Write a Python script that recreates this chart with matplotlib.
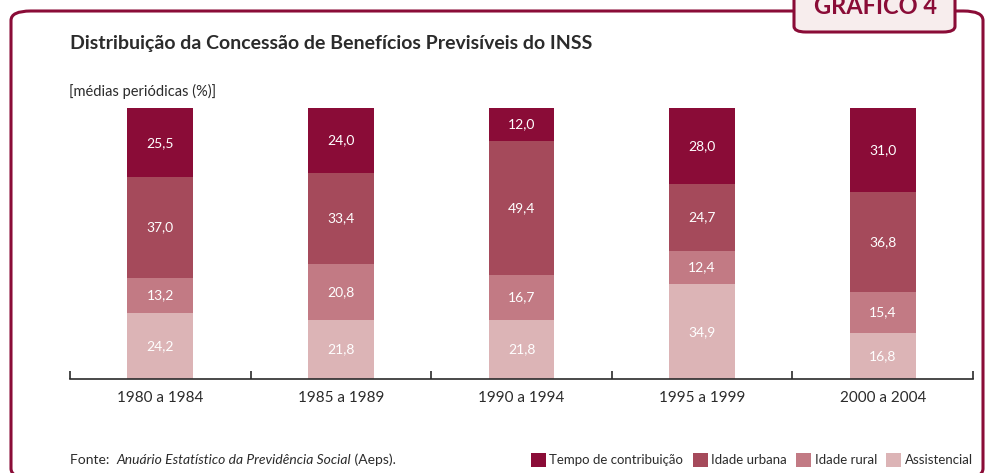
import matplotlib
matplotlib.use('Agg')
import matplotlib.pyplot as plt
from matplotlib.patches import FancyBboxPatch, Patch
from matplotlib.ticker import FixedLocator

plt.rcParams['font.family'] = ['Lato', 'DejaVu Sans']

# data (percent, bottom to top of each bar)
periods = ['1980 a 1984', '1985 a 1989', '1990 a 1994', '1995 a 1999', '2000 a 2004']
assistencial = [24.2, 21.8, 21.8, 34.9, 16.8]
idade_rural = [13.2, 20.8, 16.7, 12.4, 15.4]
idade_urbana = [37.0, 33.4, 49.4, 24.7, 36.8]
tempo_contrib = [25.5, 24.0, 12.0, 28.0, 31.0]

series_names = ['Assistencial', 'Idade rural', 'Idade urbana', 'Tempo de contribuição']
colors = ['#dcb4b6', '#c27a84', '#a54a5b', '#8a0c37']
dark_red = '#8a0c37'
text_gray = '#2b2b2b'

W, H = 985, 473
fig = plt.figure(figsize=(W / 100, H / 100), dpi=100)

def fx(px):
    return px / W

def fy(py):
    return 1 - py / H

# outer frame
frame = FancyBboxPatch((fx(11), fy(478)), fx(983) - fx(11), fy(11) - fy(478),
                       boxstyle='round,pad=0,rounding_size=0.02',
                       transform=fig.transFigure, facecolor='none',
                       edgecolor=dark_red, linewidth=2.2, clip_on=False)
fig.patches.append(frame)

# "GRAFICO 4" tab
tab = FancyBboxPatch((fx(794), fy(32)), fx(955) - fx(794), fy(-20) - fy(32),
                     boxstyle='round,pad=0,rounding_size=0.012',
                     transform=fig.transFigure, facecolor='#f7eded',
                     edgecolor=dark_red, linewidth=2.2, clip_on=False, zorder=3)
fig.patches.append(tab)
fig.text(fx(876), fy(7), 'GRÁFICO 4', ha='center', va='center', fontsize=17,
         fontweight='bold', color=dark_red, zorder=4)

# titles
fig.text(fx(70), fy(44), 'Distribuição da Concessão de Benefícios Previsíveis do INSS',
         ha='left', va='center', fontsize=14, fontweight='bold', color=text_gray)
fig.text(fx(69), fy(91), '[médias periódicas (%)]', ha='left', va='center',
         fontsize=10.5, color=text_gray)

# chart axes
ax = fig.add_axes([fx(70), fy(379), fx(973) - fx(70), fy(108) - fy(379)])
ax.set_xlim(-0.5, 4.5)
ax.set_ylim(0, 100)

x = list(range(len(periods)))
stack = [assistencial, idade_rural, idade_urbana, tempo_contrib]
bottom = [0.0] * len(periods)
for vals, col in zip(stack, colors):
    bars = ax.bar(x, vals, bottom=bottom, width=0.365, color=col, edgecolor='none')
    for xi, b, v in zip(x, bottom, vals):
        ax.text(xi, b + v / 2, f'{v:.1f}'.replace('.', ','), ha='center', va='center',
                fontsize=10, color='white')
    bottom = [b + v for b, v in zip(bottom, vals)]

for s in ['top', 'right', 'left']:
    ax.spines[s].set_visible(False)
ax.spines['bottom'].set_color(text_gray)
ax.spines['bottom'].set_linewidth(1.2)
ax.set_yticks([])
ax.set_xticks(x)
ax.set_xticklabels(periods, fontsize=11, color=text_gray)
ax.tick_params(axis='x', which='major', length=0, pad=9)
ax.xaxis.set_minor_locator(FixedLocator([-0.5, 0.5, 1.5, 2.5, 3.5, 4.5]))
ax.tick_params(axis='x', which='minor', direction='in', length=6, width=1.2,
               color=text_gray)

# source
t1 = fig.text(fx(70), fy(460), 'Fonte:  ', ha='left', va='center', fontsize=10,
              color=text_gray)
t2 = ax.annotate('Anuário Estatístico da Previdência Social', xy=(1, 0.5),
                 xycoords=t1, va='center', ha='left', fontsize=10,
                 fontstyle='italic', color=text_gray)
ax.annotate(' (Aeps).', xy=(1, 0.5), xycoords=t2, va='center', ha='left',
            fontsize=10, color=text_gray)

# legend
handles = [Patch(facecolor=c, edgecolor='none') for c in colors[::-1]]
fig.legend(handles, series_names[::-1], loc='center right',
           bbox_to_anchor=(fx(978), fy(460)), ncol=4, frameon=False,
           fontsize=9.5, handlelength=1.15, handleheight=1.15, handletextpad=0.25,
           columnspacing=0.7, labelcolor=text_gray, borderaxespad=0)

fig.savefig('out.png', dpi=100)
